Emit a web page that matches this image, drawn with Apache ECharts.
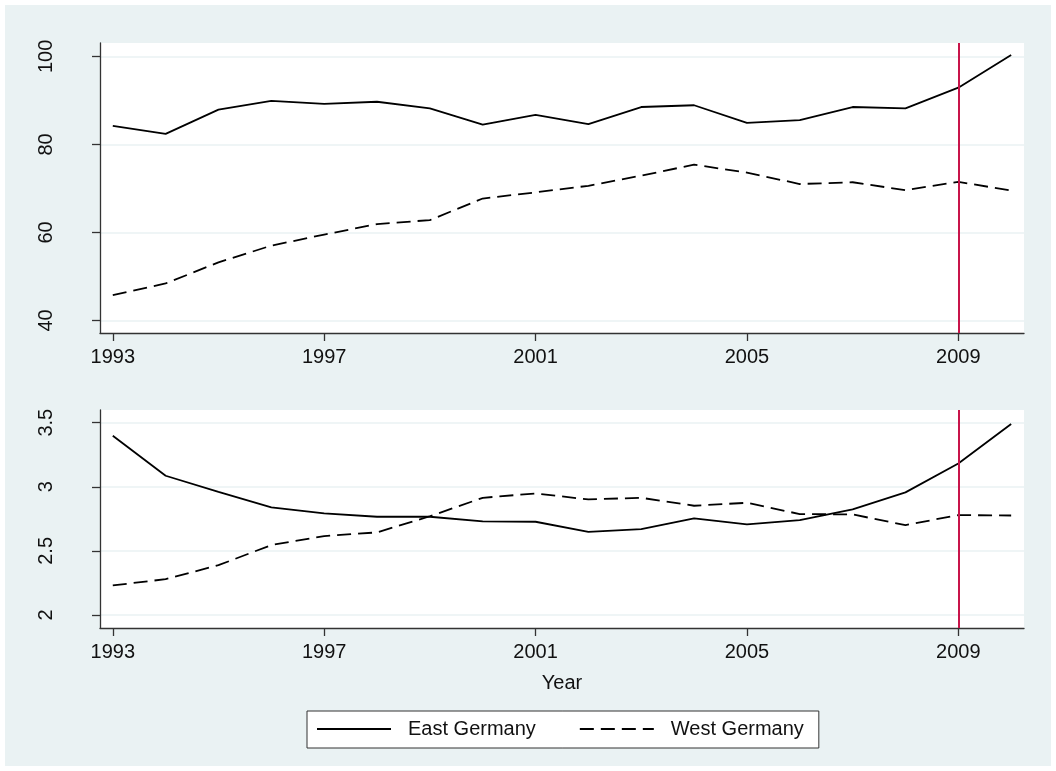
<!DOCTYPE html>
<html><head><meta charset="utf-8">
<script src="https://cdn.jsdelivr.net/npm/echarts@6/dist/echarts.min.js"></script>
<style>html,body{margin:0;padding:0;background:#fff}#c{width:1056px;height:771px}</style>
</head><body><div id="c"></div>
<script>
const years = [1993,1994,1995,1996,1997,1998,1999,2000,2001,2002,2003,2004,2005,2006,2007,2008,2009,2010];
const eastTop = [84.2,82.4,87.9,89.9,89.2,89.7,88.2,84.5,86.7,84.6,88.5,88.9,84.9,85.5,88.5,88.2,92.9,100.3];
const westTop = [45.75,48.4,53.2,57.0,59.5,61.9,62.8,67.7,69.1,70.6,72.9,75.4,73.6,71.0,71.4,69.6,71.5,69.5];
const eastBottom = [3.398,3.086,2.961,2.839,2.792,2.766,2.766,2.730,2.727,2.648,2.670,2.753,2.706,2.740,2.823,2.956,3.182,3.490];
const westBottom = [2.230,2.279,2.388,2.545,2.615,2.644,2.770,2.914,2.948,2.901,2.914,2.852,2.875,2.787,2.784,2.701,2.779,2.776];
const xTicks = [1993,1997,2001,2005,2009];
const yTicksTop = [40,60,80,100];
const yTicksBottom = [2,2.5,3,3.5];
const markerYears = [2009];
const seriesNames = ['East Germany','West Germany'];
const xLabel = 'Year';

const FONT = '"Liberation Sans", Arial, sans-serif';
const AX = '#333';
const TXT = '#111';
const BG = '#EAF2F3';

function pairs(vals){ return years.map((y,i)=>[y, vals[i]]); }

function xAxis(idx, named){
  const a = {
    type:'value', gridIndex:idx, min:1992.758, max:2010.243,
    axisLine:{show:true, onZero:false, lineStyle:{color:AX, width:1.3}},
    axisTick:{show:true, length:8, customValues:xTicks, lineStyle:{color:AX, width:1.3}},
    axisLabel:{customValues:xTicks, margin:14, fontSize:20, color:TXT, fontFamily:FONT, formatter:v=>String(v)},
    splitLine:{show:false}
  };
  if (named){
    a.name = xLabel; a.nameLocation = 'middle'; a.nameGap = 45;
    a.nameTextStyle = {fontSize:20, color:TXT, fontFamily:FONT};
  }
  return a;
}
function yAxis(idx, min, max, ticks){
  return {
    type:'value', gridIndex:idx, min:min, max:max,
    axisLine:{show:true, onZero:false, lineStyle:{color:AX, width:1.3}},
    axisTick:{show:true, length:8, customValues:ticks, lineStyle:{color:AX, width:1.3}},
    axisLabel:{customValues:ticks, rotate:90, margin:44, fontSize:20, color:TXT, fontFamily:FONT},
    splitLine:{show:true, lineStyle:{color:BG, width:1.5}}
  };
}
function lineSeries(name, idx, vals, dashed, withMarker){
  const s = {
    name:name, type:'line', xAxisIndex:idx, yAxisIndex:idx, data:pairs(vals),
    showSymbol:false, symbol:'none', silent:true,
    lineStyle:{color:'#000', width:1.8, type: dashed ? [14,7] : 'solid'},
    itemStyle:{color:'#000'},
    z:3
  };
  if (withMarker){
    s.markLine = {
      silent:true, symbol:['none','none'], label:{show:false},
      lineStyle:{color:'#C8144A', width:2, type:'solid'},
      emphasis:{disabled:true},
      data: markerYears.map(v=>({xAxis:v}))
    };
  }
  return s;
}

const chart = echarts.init(document.getElementById('c'), null, {renderer:'canvas'});
chart.setOption({
  animation:false,
  backgroundColor:'#fff',
  textStyle:{fontFamily:FONT},
  graphic:[{type:'rect', z:-10, silent:true, shape:{x:5,y:5,width:1046,height:761}, style:{fill:BG}}],
  grid:[
    {left:100, top:43, width:924, height:290, show:true, backgroundColor:'#fff', borderWidth:0, containLabel:false},
    {left:100, top:410, width:924, height:218, show:true, backgroundColor:'#fff', borderWidth:0, containLabel:false}
  ],
  xAxis:[xAxis(0,false), xAxis(1,true)],
  yAxis:[yAxis(0,37.14,103.05,yTicksTop), yAxis(1,1.898,3.599,yTicksBottom)],
  legend:{
    data:seriesNames, left:307, top:711, orient:'horizontal',
    itemWidth:74, itemHeight:20, itemGap:43, padding:[8,15,9,9],
    borderColor:'#333', borderWidth:1, backgroundColor:'#fff', selectedMode:false,
    itemStyle:{opacity:0, borderWidth:0},
    textStyle:{fontSize:20, color:TXT, fontFamily:FONT, padding:[0,0,0,12]}
  },
  series:[
    lineSeries(seriesNames[0],0,eastTop,false,true),
    lineSeries(seriesNames[1],0,westTop,true,false),
    lineSeries(seriesNames[0],1,eastBottom,false,true),
    lineSeries(seriesNames[1],1,westBottom,true,false)
  ]
});
</script></body></html>
